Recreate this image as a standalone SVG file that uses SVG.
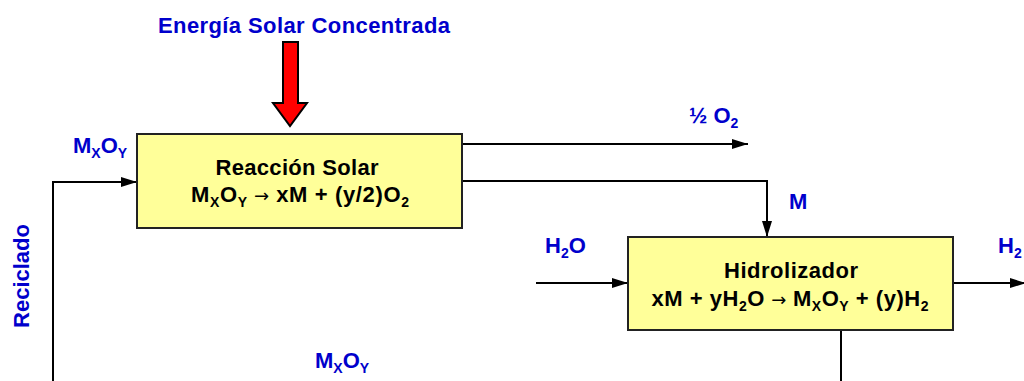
<svg xmlns="http://www.w3.org/2000/svg" width="1024" height="381" viewBox="0 0 1024 381">
<style>
.lbl{font-family:"Liberation Sans",Arial,sans-serif;font-weight:bold;fill:#0000CC;font-size:22px}
.box{fill:#FFFF99;stroke:#222;stroke-width:2}
.bt{font-family:"Liberation Sans",Arial,sans-serif;font-weight:bold;fill:#000;font-size:22px;text-anchor:middle}
.sub{font-size:14px}
.ar{font-weight:normal;font-family:"DejaVu Sans",sans-serif;font-size:18px}
.ln{fill:none;stroke:#000;stroke-width:2}
</style>
<defs>
<marker id="ah" markerUnits="userSpaceOnUse" markerWidth="16" markerHeight="10" refX="16" refY="5" orient="auto">
<path d="M0,0 L16,5 L0,10 Z" fill="#000"/>
</marker>
</defs>
<rect width="1024" height="381" fill="#fff"/>
<g id="connectors">
<path class="ln" d="M462,144 H748" marker-end="url(#ah)"/>
<path class="ln" d="M462,181 H767 V237" marker-end="url(#ah)"/>
<path class="ln" d="M536,283 H628" marker-end="url(#ah)"/>
<path class="ln" d="M953,283 H1026" marker-end="url(#ah)"/>
<path class="ln" d="M841,330 V383"/>
<path class="ln" d="M53,383 V182 H137" marker-end="url(#ah)"/>
<polygon points="283,42 298,42 298,103 307,103 290,126 273,103 283,103" fill="#FF0000" stroke="#000" stroke-width="2"/>
</g>
<g id="energia">
<text class="lbl" x="304" y="33" text-anchor="middle" textLength="292">Energía Solar Concentrada</text>
</g>
<g id="reaccion-solar">
<rect class="box" x="137" y="134" width="325" height="94"/>
<text class="bt" x="297" y="175" textLength="163">Reacción Solar</text>
<text class="bt" x="300" y="202" textLength="218">M<tspan class="sub" dy="5">X</tspan><tspan dy="-5">O</tspan><tspan class="sub" dy="5">Y</tspan><tspan class="ar" dy="-5"> → </tspan>xM + (y/2)O<tspan class="sub" dy="5">2</tspan></text>
</g>
<g id="hidrolizador">
<rect class="box" x="628" y="237" width="325" height="93"/>
<text class="bt" x="791" y="278" textLength="134">Hidrolizador</text>
<text class="bt" x="790" y="306" textLength="277">xM + yH<tspan class="sub" dy="5">2</tspan><tspan dy="-5">O</tspan><tspan class="ar"> → </tspan>M<tspan class="sub" dy="5">X</tspan><tspan dy="-5">O</tspan><tspan class="sub" dy="5">Y</tspan><tspan dy="-5"> + (y)H</tspan><tspan class="sub" dy="5">2</tspan></text>
</g>
<g id="labels">
<text class="lbl" x="73" y="153">M<tspan class="sub" dy="5">X</tspan><tspan dy="-5">O</tspan><tspan class="sub" dy="5">Y</tspan></text>
<text class="lbl" x="689" y="123">½ O<tspan class="sub" dy="5">2</tspan></text>
<text class="lbl" x="789" y="209">M</text>
<text class="lbl" x="545" y="253">H<tspan class="sub" dy="5">2</tspan><tspan dy="-5">O</tspan></text>
<text class="lbl" x="998" y="253">H<tspan class="sub" dy="5">2</tspan></text>
<text class="lbl" x="315" y="368">M<tspan class="sub" dy="5">X</tspan><tspan dy="-5">O</tspan><tspan class="sub" dy="5">Y</tspan></text>
<text class="lbl" transform="translate(29,276) rotate(-90)" text-anchor="middle">Reciclado</text>
</g>
</svg>
